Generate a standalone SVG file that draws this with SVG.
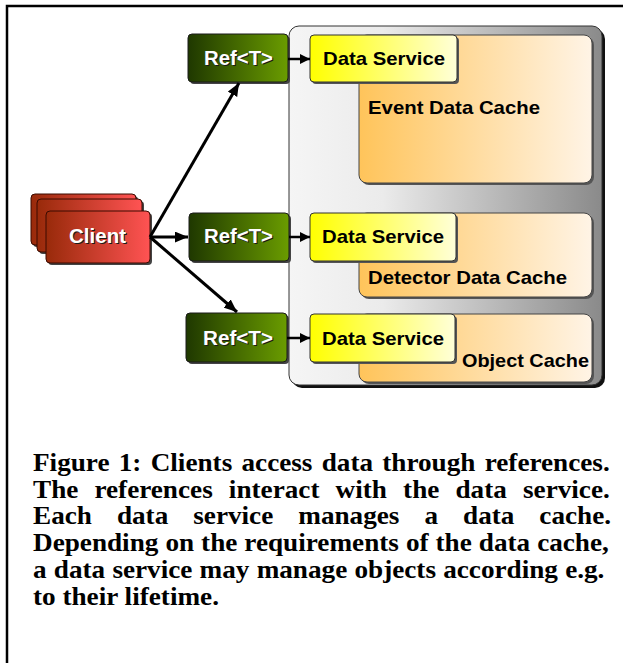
<svg xmlns="http://www.w3.org/2000/svg" width="623" height="663" viewBox="0 0 623 663">
<defs>
<linearGradient id="gCont" x1="0" y1="0" x2="1" y2="0"><stop offset="0" stop-color="#f5f5f5"/><stop offset="0.3" stop-color="#ebebeb"/><stop offset="1" stop-color="#8a8a8a"/></linearGradient>
<linearGradient id="gRef" x1="0" y1="0" x2="1" y2="0"><stop offset="0" stop-color="#1f3800"/><stop offset="1" stop-color="#6a9c00"/></linearGradient>
<linearGradient id="gClient" x1="0" y1="0" x2="1" y2="0"><stop offset="0" stop-color="#982a0a"/><stop offset="1" stop-color="#ff5353"/></linearGradient>
<linearGradient id="gDS" x1="0" y1="0" x2="1" y2="0"><stop offset="0" stop-color="#ffff00"/><stop offset="1" stop-color="#ffffd8"/></linearGradient>
<linearGradient id="gCache" x1="0" y1="0" x2="1" y2="0"><stop offset="0" stop-color="#ffc45a"/><stop offset="1" stop-color="#fff4e6"/></linearGradient>
<marker id="ah" viewBox="0 0 12 10" refX="12" refY="5" markerWidth="13" markerHeight="11" markerUnits="userSpaceOnUse" orient="auto"><path d="M0,0 L12,5 L0,10 Z" fill="#000"/></marker>
<marker id="ahs" viewBox="0 0 10 10" refX="10" refY="5" markerWidth="10" markerHeight="10" markerUnits="userSpaceOnUse" orient="auto"><path d="M0,0 L10,5 L0,10 Z" fill="#000"/></marker>
</defs>
<style>
.ref{fill:url(#gRef);stroke:#1a1a1a;stroke-width:1}
.client{fill:url(#gClient);stroke:#3a0a00;stroke-width:1}
.ds{fill:url(#gDS);stroke:#333;stroke-width:1}
.cache{fill:url(#gCache);stroke:#444;stroke-width:1}
.wt{font-family:"Liberation Sans",Arial,sans-serif;font-weight:bold;font-size:19.5px;fill:#fff}
.wts{font-family:"Liberation Sans",Arial,sans-serif;font-weight:bold;font-size:19.5px;fill:#1a1a1a}
.bt{font-family:"Liberation Sans",Arial,sans-serif;font-weight:bold;font-size:18.5px;fill:#000}
.cap{font-family:"Liberation Serif","Times New Roman",serif;font-weight:bold;font-size:26px;fill:#000}
.conn{stroke:#000;fill:none}
</style>
<rect x="0" y="0" width="623" height="663" fill="#fff"/>
<g id="frame"><path d="M7,663 V6 H623" fill="none" stroke="#000" stroke-width="2.5"/></g>

<g id="container">
<rect x="292" y="29" width="313" height="359" rx="10" fill="#111"/>
<rect x="289" y="26" width="313" height="359" rx="10" fill="url(#gCont)" stroke="#333" stroke-width="1"/>
</g>

<g id="cache-event">
<rect x="361" y="37" width="233" height="148" rx="8" fill="#555"/>
<rect x="359" y="35" width="233" height="148" rx="8" class="cache"/>
<text x="368" y="114" class="bt" textLength="172" lengthAdjust="spacingAndGlyphs">Event Data Cache</text>
</g>
<g id="cache-detector">
<rect x="361" y="215" width="233" height="84" rx="8" fill="#555"/>
<rect x="359" y="213" width="233" height="84" rx="8" class="cache"/>
<text x="368" y="284" class="bt" textLength="199" lengthAdjust="spacingAndGlyphs">Detector Data Cache</text>
</g>
<g id="cache-object">
<rect x="361" y="316" width="233" height="68" rx="8" fill="#555"/>
<rect x="359" y="314" width="233" height="68" rx="8" class="cache"/>
<text x="462" y="367" class="bt" textLength="127" lengthAdjust="spacingAndGlyphs">Object Cache</text>
</g>

<g id="ds1">
<rect x="312" y="37" width="147" height="47" rx="4" fill="#555"/>
<rect x="310" y="35" width="147" height="47" rx="4" class="ds"/>
<text x="323" y="65" class="bt" textLength="122" lengthAdjust="spacingAndGlyphs">Data Service</text>
</g>
<g id="ds2">
<rect x="312" y="215" width="146" height="48" rx="4" fill="#555"/>
<rect x="310" y="213" width="146" height="48" rx="4" class="ds"/>
<text x="322" y="243" class="bt" textLength="122" lengthAdjust="spacingAndGlyphs">Data Service</text>
</g>
<g id="ds3">
<rect x="312" y="316" width="145" height="48" rx="4" fill="#555"/>
<rect x="310" y="314" width="145" height="48" rx="4" class="ds"/>
<text x="322" y="345" class="bt" textLength="122" lengthAdjust="spacingAndGlyphs">Data Service</text>
</g>

<g id="ref1">
<rect x="190" y="36" width="100" height="48" rx="4" fill="#444"/>
<rect x="188" y="34" width="100" height="48" rx="4" class="ref"/>
<text x="205" y="66" class="wts" textLength="69" lengthAdjust="spacingAndGlyphs">Ref&lt;T&gt;</text>
<text x="204" y="65" class="wt" textLength="69" lengthAdjust="spacingAndGlyphs">Ref&lt;T&gt;</text>
</g>
<g id="ref2">
<rect x="191" y="215" width="100" height="48" rx="4" fill="#444"/>
<rect x="189" y="213" width="100" height="48" rx="4" class="ref"/>
<text x="205" y="244" class="wts" textLength="69" lengthAdjust="spacingAndGlyphs">Ref&lt;T&gt;</text>
<text x="204" y="243" class="wt" textLength="69" lengthAdjust="spacingAndGlyphs">Ref&lt;T&gt;</text>
</g>
<g id="ref3">
<rect x="188" y="315" width="101" height="49" rx="4" fill="#444"/>
<rect x="186" y="313" width="101" height="49" rx="4" class="ref"/>
<text x="204" y="346" class="wts" textLength="70" lengthAdjust="spacingAndGlyphs">Ref&lt;T&gt;</text>
<text x="203" y="345" class="wt" textLength="70" lengthAdjust="spacingAndGlyphs">Ref&lt;T&gt;</text>
</g>

<g id="client">
<rect x="33" y="196" width="105" height="51" rx="4" fill="#444"/>
<rect x="31" y="194" width="105" height="51" rx="4" class="client"/>
<rect x="39" y="201" width="105" height="53" rx="4" fill="#444"/>
<rect x="37" y="199" width="105" height="53" rx="4" class="client"/>
<rect x="48" y="213" width="104" height="52" rx="4" fill="#444"/>
<rect x="46" y="211" width="104" height="52" rx="4" class="client"/>
<text x="70" y="244" class="wts" textLength="57" lengthAdjust="spacingAndGlyphs">Client</text>
<text x="69" y="243" class="wt" textLength="57" lengthAdjust="spacingAndGlyphs">Client</text>
</g>

<g id="connectors">
<line x1="150" y1="237" x2="239" y2="83" class="conn" stroke-width="3" marker-end="url(#ah)"/>
<line x1="150" y1="237" x2="188" y2="237" class="conn" stroke-width="3" marker-end="url(#ah)"/>
<line x1="150" y1="237" x2="237" y2="312" class="conn" stroke-width="3" marker-end="url(#ah)"/>
<line x1="288" y1="59" x2="310" y2="59" class="conn" stroke-width="2.5" marker-end="url(#ahs)"/>
<line x1="289" y1="237" x2="310" y2="237" class="conn" stroke-width="2.5" marker-end="url(#ahs)"/>
<line x1="287" y1="338" x2="310" y2="338" class="conn" stroke-width="2.5" marker-end="url(#ahs)"/>
</g>

<g id="caption" transform="translate(33,0) scale(1.046,1)">
<text x="0" y="471" class="cap" word-spacing="2.35">Figure 1: Clients access data through references.</text>
<text x="0" y="498" class="cap" word-spacing="8.95">The references interact with the data service.</text>
<text x="0" y="524" class="cap" word-spacing="17.4">Each data service manages a data cache.</text>
<text x="0" y="551" class="cap" word-spacing="0.2">Depending on the requirements of the data cache,</text>
<text x="0" y="578" class="cap" word-spacing="0.4">a data service may manage objects according e.g.</text>
<text x="0" y="605" class="cap">to their lifetime.</text>
</g>
</svg>
